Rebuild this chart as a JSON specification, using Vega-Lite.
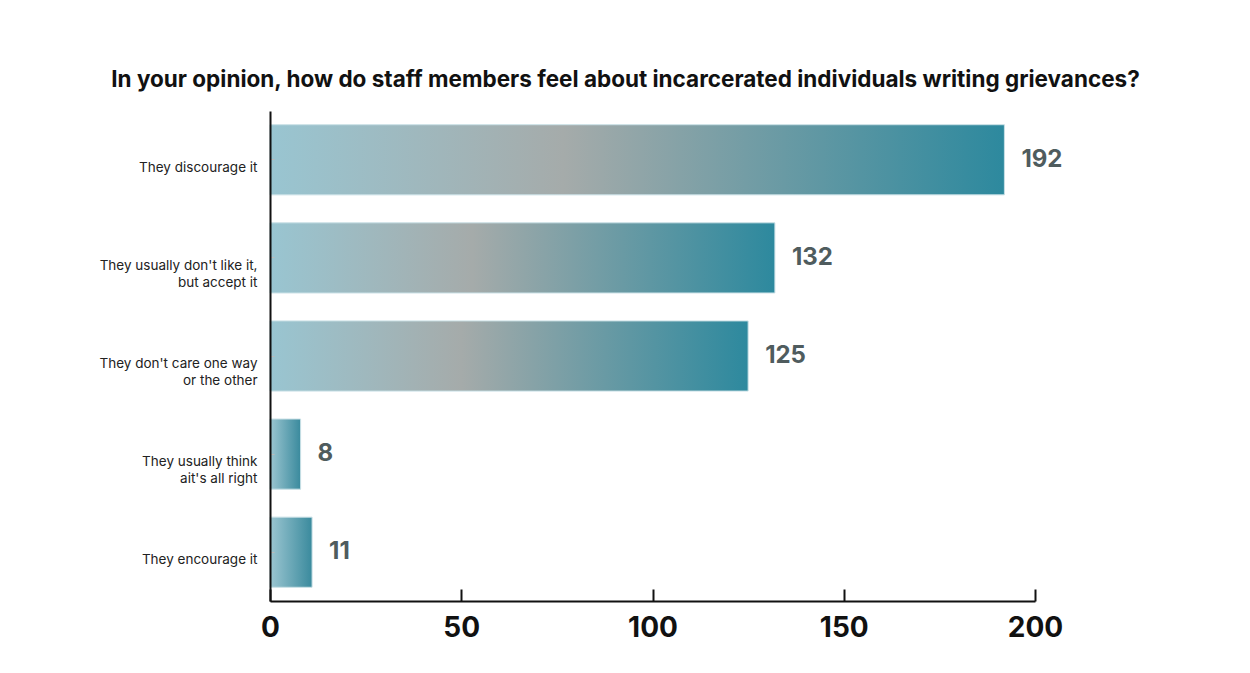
{
  "$schema": "https://vega.github.io/schema/vega-lite/v6.json",
  "width": 765,
  "height": 490,
  "autosize": {"type": "none"},
  "padding": {"left": 270, "top": 111, "right": 215, "bottom": 72},
  "background": "white",
  "title": {
    "text": "In your opinion, how do staff members feel about incarcerated individuals writing grievances?",
    "font": "Inter",
    "fontSize": 22.5,
    "fontWeight": "bold",
    "color": "#111111",
    "anchor": "middle",
    "dx": -27,
    "offset": 20
  },
  "config": {
    "view": {"stroke": null},
    "font": "Inter"
  },
  "data": {
    "values": [
      {"response": "They discourage it", "count": 192},
      {"response": "They usually don't like it,\nbut accept it", "count": 132},
      {"response": "They don't care one way\nor the other", "count": 125},
      {"response": "They usually think\nait's all right", "count": 8},
      {"response": "They encourage it", "count": 11}
    ]
  },
  "encoding": {
    "y": {
      "field": "response",
      "type": "nominal",
      "sort": null,
      "title": null,
      "scale": {"paddingInner": 0.285, "paddingOuter": 0.14},
      "axis": {
        "domainColor": "#111111",
        "domainWidth": 2,
        "tickColor": "#bbbbbb",
        "tickSize": -4,
        "labelExpr": "split(datum.label, '\\n')",
        "labelFont": "Inter",
        "labelFontSize": 13.5,
        "labelColor": "#222222",
        "labelLineHeight": 17,
        "labelBaseline": "top",
        "labelOffset": 1,
        "labelPadding": 17,
        "zindex": 1
      }
    },
    "x": {
      "field": "count",
      "type": "quantitative",
      "title": null,
      "scale": {"domain": [0, 200], "nice": false},
      "axis": {
        "values": [0, 50, 100, 150, 200],
        "grid": false,
        "domainColor": "#111111",
        "domainWidth": 2,
        "tickColor": "#111111",
        "tickWidth": 2,
        "tickSize": -12,
        "labelFont": "Inter",
        "labelFontSize": 28,
        "labelFontWeight": "bold",
        "labelColor": "#111111",
        "labelPadding": 25,
        "labelFlush": false,
        "zindex": 1
      }
    }
  },
  "layer": [
    {
      "transform": [{"filter": "datum.count >= 50"}],
      "mark": {
        "type": "bar",
        "stroke": "#c9e0e6",
        "strokeWidth": 1,
        "color": {
          "gradient": "linear",
          "x1": 0, "y1": 0, "x2": 1, "y2": 0,
          "stops": [
            {"offset": 0, "color": "#99c5d1"},
            {"offset": 0.4, "color": "#a5abaa"},
            {"offset": 1, "color": "#2d899e"}
          ]
        }
      }
    },
    {
      "transform": [{"filter": "datum.count < 50"}],
      "mark": {
        "type": "bar",
        "stroke": "#c9e0e6",
        "strokeWidth": 1,
        "color": {
          "gradient": "linear",
          "x1": 0, "y1": 0, "x2": 1, "y2": 0,
          "stops": [
            {"offset": 0, "color": "#9cc6d1"},
            {"offset": 1, "color": "#3a8a9d"}
          ]
        }
      }
    },
    {
      "mark": {
        "type": "text",
        "align": "left",
        "baseline": "middle",
        "dx": 17,
        "font": "Inter",
        "fontSize": 24,
        "fontWeight": "bold",
        "color": "#4f5c5e"
      },
      "encoding": {"text": {"field": "count", "type": "quantitative"}}
    }
  ]
}
